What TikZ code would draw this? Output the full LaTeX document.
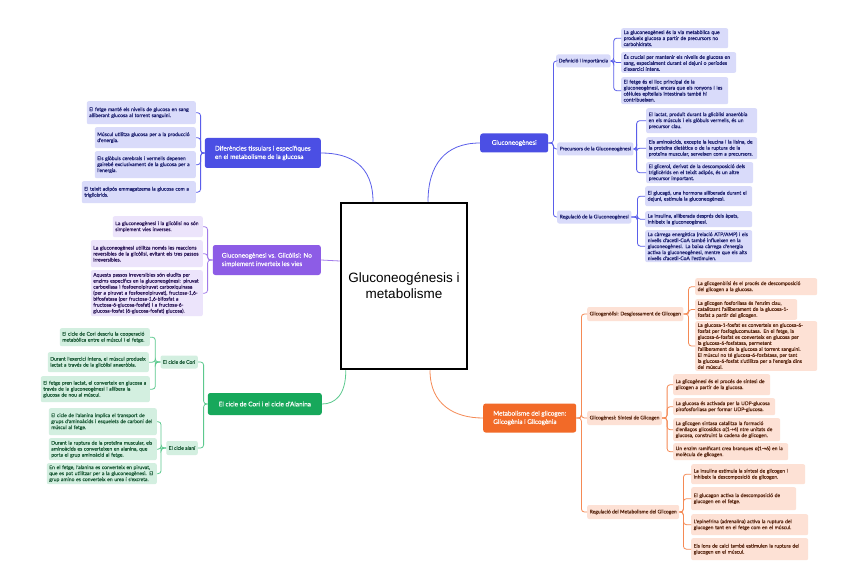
\documentclass[tikz,border=0pt]{standalone}
\usepackage{fontspec}
\setmainfont{Lato}
\newfontfamily\leaffont[FakeBold=0.3]{Lato}
\newfontfamily\centrefont{Liberation Sans}
\newfontfamily\symfont[FakeBold=0.3]{DejaVu Sans}

\definecolor{blueM}{HTML}{4B4FE4}
\definecolor{blueLeaf}{HTML}{D9DBFA}
\definecolor{blueText}{HTML}{1F2270}
\definecolor{blueLine}{HTML}{5A5EEA}
\definecolor{purpleM}{HTML}{8D5CE6}
\definecolor{purpleLeaf}{HTML}{ECE4FB}
\definecolor{purpleLine}{HTML}{A27BEA}
\definecolor{purpleText}{HTML}{2E1A5A}
\definecolor{greenM}{HTML}{17A85B}
\definecolor{greenLeaf}{HTML}{D3EFE0}
\definecolor{greenLine}{HTML}{5CC98E}
\definecolor{greenText}{HTML}{1C5A37}
\definecolor{orangeM}{HTML}{F26A28}
\definecolor{orangeLeaf}{HTML}{FDE1D5}
\definecolor{orangeLine}{HTML}{F58A55}
\definecolor{orangeText}{HTML}{5B2A14}

\begin{document}
\begin{tikzpicture}[x=1pt,y=-1pt,
  leaf/.style={rounded corners=2pt,inner xsep=2.5pt,inner ysep=2pt,align=left,font=\leaffont\fontsize{5}{6}\selectfont},
  mainbox/.style={rounded corners=2.5pt,inner xsep=6pt,inner ysep=3pt,align=left,text=white,font=\leaffont\fontsize{6.4}{8.4}\selectfont},
  bl/.style={leaf,fill=blueLeaf,text=blueText},
  pl/.style={leaf,fill=purpleLeaf,text=purpleText},
  gl/.style={leaf,fill=greenLeaf,text=greenText},
  ol/.style={leaf,fill=orangeLeaf,text=orangeText},
  link/.style={line width=.8pt,rounded corners=3pt}]
\useasboundingbox[fill=white] (0,0) rectangle (848,588);

\node[draw=black,line width=2.5pt,fill=white,minimum width=126pt,minimum height=166pt,align=center,font=\centrefont\fontsize{13.5}{16}\selectfont] (root) at (404,286) {Gluconeogénesis i\\metabolisme};

% Gluconeogenesi
\node[mainbox,fill=blueM,anchor=west,minimum width=68pt,minimum height=19pt] (glu) at (480,143) {Gluconeogènesi};
\draw[link,blueLine] ([xshift=24pt]root.north) .. controls (428,165) and (445,143) .. (glu.west);
\node[bl,anchor=west,minimum height=13pt] (def) at (556,61) {Definició i importància};
\node[bl,anchor=west,minimum height=13pt] (pre) at (557,149) {Precursors de la Gluconeogènesi};
\node[bl,anchor=west,minimum height=13pt] (reg) at (557,217) {Regulació de la Gluconeogènesi};
\foreach \s in {def,pre,reg}
  \draw[link,blueLine] (glu.east) -- ++(5,0) |- (\s.west);
\node[bl,anchor=north west,text width=102pt,minimum height=20pt] (d1) at (621,28) {La gluconeogènesi és la via metabòlica que\\produeix glucosa a partir de precursors no\\carbohidrats.};
\node[bl,anchor=north west,text width=110pt,minimum height=20pt] (d2) at (621,52) {És crucial per mantenir els nivells de glucosa en\\sang, especialment durant el dejuni o períodes\\d'exercici intens.};
\node[bl,anchor=north west,text width=102pt,minimum height=27pt] (d3) at (621,77) {El fetge és el lloc principal de la\\gluconeogènesi, encara que els ronyons i les\\cèl·lules epitelials intestinals també hi\\contribueixen.};
\node[bl,anchor=north west,text width=106pt,minimum height=25pt] (p1) at (646,108) {El lactat, produït durant la glicòlisi anaeròbia\\en els músculs i els glòbuls vermells, és un\\precursor clau.};
\node[bl,anchor=north west,text width=106pt,minimum height=22pt] (p2) at (646,137) {Els aminoàcids, excepte la leucina i la lisina, de\\la proteïna dietètica o de la ruptura de la\\proteïna muscular, serveixen com a precursors.};
\node[bl,anchor=north west,text width=102pt,minimum height=21pt] (p3) at (646,162) {El glicerol, derivat de la descomposició dels\\triglicèrids en el teixit adipós, és un altre\\precursor important.};
\node[bl,anchor=north west,text width=102pt,minimum height=20pt] (r1) at (645,186) {El glucagó, una hormona alliberada durant el\\dejuni, estimula la gluconeogènesi.};
\node[bl,anchor=north west,text width=102pt,minimum height=16pt] (r2) at (645,211) {La insulina, alliberada després dels àpats,\\inhibeix la gluconeogènesi.};
\node[bl,anchor=north west,text width=102pt,minimum height=32pt] (r3) at (645,230) {La càrrega energètica (relació ATP/AMP) i els\\nivells d'acetil-CoA també influeixen en la\\gluconeogènesi. La baixa càrrega d'energia\\activa la gluconeogènesi, mentre que els alts\\nivells d'acetil-CoA l'estimulen.};
\foreach \l in {d1,d2,d3}
  \draw[link,blueLine] (def.east) -- ++(3,0) |- (\l.west);
\foreach \l in {p1,p2,p3}
  \draw[link,blueLine] (pre.east) -- ++(3,0) |- (\l.west);
\foreach \l in {r1,r2,r3}
  \draw[link,blueLine] (reg.east) -- ++(6,0) |- (\l.west);

% Diferencies tissulars
\node[mainbox,fill=blueM,anchor=east,minimum width=116pt,minimum height=30pt] (dif) at (321,153) {Diferències tissulars i específiques\\en el metabolisme de la glucosa};
\draw[link,blueLine] ([xshift=-31pt]root.north) .. controls (373,165) and (350,153) .. (dif.east);
\node[bl,anchor=north east,text width=104pt,minimum height=23pt] (f1) at (196,101) {El fetge manté els nivells de glucosa en sang\\alliberant glucosa al torrent sanguini.};
\node[bl,anchor=north east,text width=96pt,minimum height=21pt] (f2) at (196,127) {Múscul utilitza glucosa per a la producció\\d'energia.};
\node[bl,anchor=north east,text width=96pt,minimum height=27pt] (f3) at (196,151) {Els glòbuls cerebrals i vermells depenen\\gairebé exclusivament de la glucosa per a\\l'energia.};
\node[bl,anchor=north east,text width=109pt,minimum height=22pt] (f4) at (196,181) {El teixit adipós emmagatzema la glucosa com a\\triglicèrids.};
\foreach \l in {f1,f2,f3,f4}
  \draw[link,blueLine] (dif.west) -- ++(-4,0) |- (\l.east);

% Gluconeogenesi vs. Glicolisi
\node[mainbox,fill=purpleM,anchor=east,minimum width=108pt,minimum height=30pt] (vs) at (321,260) {Gluconeogènesi vs. Glicòlisi: No\\simplement inverteix les vies};
\draw[link,purpleLine] ([yshift=25pt]root.west) -- (vs.east);
\node[pl,anchor=north east,text width=85pt,minimum height=21pt] (v1) at (203,216) {La gluconeogènesi i la glicòlisi no són\\simplement vies inverses.};
\node[pl,anchor=north east,text width=107pt,minimum height=27pt] (v2) at (203,240) {La gluconeogènesi utilitza només les reaccions\\reversibles de la glicòlisi, evitant els tres passos\\irreversibles.};
\node[pl,anchor=north east,text width=107pt,minimum height=46pt] (v3) at (203,270) {Aquests passos irreversibles són eludits per\\enzims específics en la gluconeogènesi: piruvat\\carboxilasa i fosfoenolpiruvat carboxiquinasa\\(per a piruvat a fosfoenolpiruvat), fructosa-1,6-\\bifosfatasa (per fructosa-1,6-bifosfat a\\fructosa-6-glucosa-fosfat) i a fructosa-6-\\glucosa-fosfat (6-glucosa-fosfat) glucosa).};
\foreach \l in {v1,v2,v3}
  \draw[link,purpleLine] (vs.west) -- ++(-5,0) |- (\l.east);

% Cicle de Cori i cicle d'Alanina
\node[mainbox,fill=greenM,anchor=east,minimum width=114pt,minimum height=22pt] (cori) at (322,404) {El cicle de Cori i el cicle d'Alanina};
\draw[link,greenLine] ([xshift=6pt]root.south west) .. controls (346,395) and (335,404) .. (cori.east);
\node[gl,anchor=east,minimum height=13pt] (cc) at (198,362) {El cicle de Cori};
\node[gl,anchor=east,minimum height=14pt] (ca) at (198,448) {El cicle alaní};
\foreach \s in {cc,ca}
  \draw[link,greenLine] (cori.west) -- ++(-4,0) |- (\s.east);
\node[gl,anchor=north east,text width=85pt,minimum height=18pt] (c1) at (150,328) {El cicle de Cori descriu la cooperació\\metabòlica entre el múscul i el fetge.};
\node[gl,anchor=north east,text width=96pt,minimum height=20pt] (c2) at (149,352) {Durant l'exercici intens, el múscul produeix\\lactat a través de la glicòlisi anaeròbia.};
\node[gl,anchor=north east,text width=104pt,minimum height=26pt] (c3) at (150,376) {El fetge pren lactat, el converteix en glucosa a\\través de la gluconeogènesi i allibera la\\glucosa de nou al múscul.};
\node[gl,anchor=north east,text width=103pt,minimum height=27pt] (a1) at (157,408) {El cicle de l'alanina implica el transport de\\grups d'aminoàcids i esquelets de carboni del\\múscul al fetge.};
\node[gl,anchor=north east,text width=103pt,minimum height=22pt] (a2) at (157,438) {Durant la ruptura de la proteïna muscular, els\\aminoàcids es converteixen en alanina, que\\porta el grup aminoàcid al fetge.};
\node[gl,anchor=north east,text width=105pt,minimum height=21pt] (a3) at (157,463) {En el fetge, l'alanina es converteix en piruvat,\\que es pot utilitzar per a la gluconeogènesi. El\\grup amino es converteix en urea i s'excreta.};
\foreach \l in {c1,c2,c3}
  \draw[link,greenLine] (cc.west) -- ++(-5,0) |- (\l.east);
\foreach \l in {a1,a2,a3}
  \draw[link,greenLine] (ca.west) -- ++(-5,0) |- (\l.east);

% Metabolisme del glicogen
\node[mainbox,fill=orangeM,anchor=west,minimum width=93pt,minimum height=29pt] (gly) at (483,418) {Metabolisme del glicogen:\\Glicogènia i Glicogènia};
\draw[link,orangeLine] ([xshift=26pt]root.south) .. controls (430,405) and (455,418) .. (gly.west);
\node[ol,anchor=west,minimum height=14pt] (go1) at (587,314) {Glicogenòlisi: Desglossament de Glicogen};
\node[ol,anchor=west,minimum height=14pt] (go2) at (587,418) {Glicogènesi: Síntesi de Glicogen};
\node[ol,anchor=west,minimum height=14pt] (go3) at (587,512) {Regulació del Metabolisme del Glicogen};
\foreach \s in {go1,go2,go3}
  \draw[link,orangeLine] (gly.east) -- ++(5,0) |- (\s.west);
\node[ol,anchor=north west,text width=117pt,minimum height=17pt] (k1) at (695,278) {La glicogenòlisi és el procés de descomposició\\del glicogen a la glucosa.};
\node[ol,anchor=north west,text width=97pt,minimum height=19pt] (k2) at (695,299) {La glicogen fosforilasa és l'enzim clau,\\catalitzant l'alliberament de la glucosa-1-\\fosfat a partir del glicogen.};
\node[ol,anchor=north west,text width=117pt,minimum height=49pt] (k3) at (695,321) {La glucosa-1-fosfat es converteix en glucosa-6-\\fosfat per fosfoglucomutasa. En el fetge, la\\glucosa-6-fosfat es converteix en glucosa per\\la glucosa-6-fosfatasa, permetent\\l'alliberament de la glucosa al torrent sanguini.\\El múscul no té glucosa-6-fosfatasa, per tant\\la glucosa-6-fosfat s'utilitza per a l'energia dins\\del múscul.};
\node[ol,anchor=north west,text width=92pt,minimum height=21pt] (s1) at (673,374) {La glicogènesi és el procés de síntesi de\\glicogen a partir de la glucosa.};
\node[ol,anchor=north west,text width=97pt,minimum height=17pt] (s2) at (673,398) {La glucosa és activada per la UDP-glucosa\\pirofosforilasa per formar UDP-glucosa.};
\node[ol,anchor=north west,text width=102pt,minimum height=23pt] (s3) at (673,418) {La glicogen sintasa catalitza la formació\\d'enllaços glicosídics α(1{\symfont →}4) ntre unitats de\\glucosa, construint la cadena de glicogen.};
\node[ol,anchor=north west,text width=110pt,minimum height=17pt] (s4) at (673,443) {Un enzim ramificant crea branques α(1{\symfont →}6) en la\\molècula de glicogen.};
\node[ol,anchor=north west,text width=109pt,minimum height=20pt] (g1) at (691,464) {La insulina estimula la síntesi de glicogen i\\inhibeix la descomposició de glicogen.};
\node[ol,anchor=north west,text width=100pt,minimum height=23pt] (g2) at (691,487) {El glucagon activa la descomposició de\\glucogen en el fetge.};
\node[ol,anchor=north west,text width=112pt,minimum height=21pt] (g3) at (691,514) {L'epinefrina (adrenalina) activa la ruptura del\\glucogen tant en el fetge com en el múscul.};
\node[ol,anchor=north west,text width=112pt,minimum height=22pt] (g4) at (691,538) {Els ions de calci també estimulen la ruptura del\\glucogen en el múscul.};
\foreach \l in {k1,k2,k3}
  \draw[link,orangeLine] (go1.east) -- ++(5,0) |- (\l.west);
\foreach \l in {s1,s2,s3,s4}
  \draw[link,orangeLine] (go2.east) -- ++(5,0) |- (\l.west);
\foreach \l in {g1,g2,g3,g4}
  \draw[link,orangeLine] (go3.east) -- ++(4,0) |- (\l.west);
\end{tikzpicture}
\end{document}
